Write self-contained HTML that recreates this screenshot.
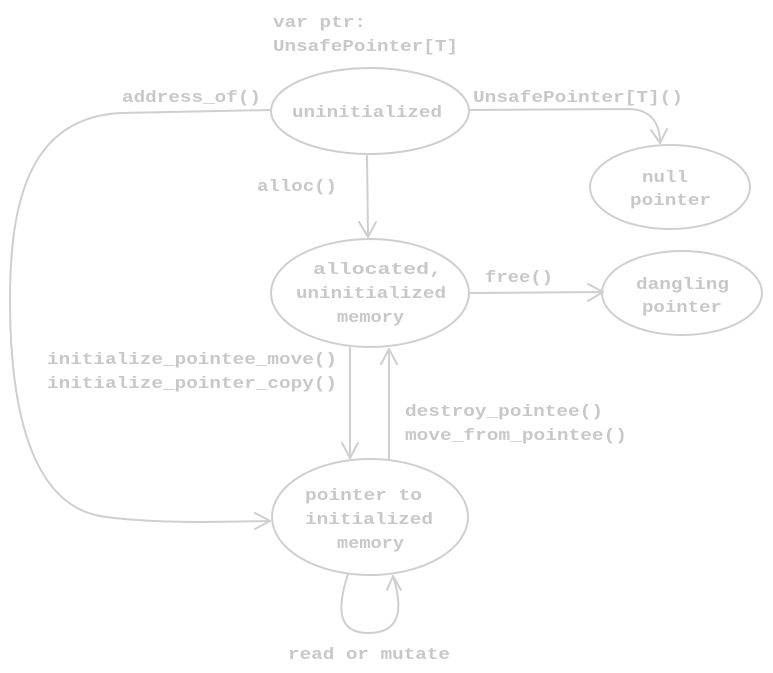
<!DOCTYPE html>
<html><head><meta charset="utf-8"><style>
html,body{margin:0;padding:0;background:#fff;}
svg{display:block}
text{font-family:"Liberation Mono","DejaVu Sans Mono",monospace;font-size:17px;fill:#c8c8c8;font-weight:bold}
</style></head><body>
<svg width="773" height="673" viewBox="0 0 773 673" xmlns="http://www.w3.org/2000/svg">
<g fill="none" stroke="#cfcfcf" stroke-width="2" stroke-linecap="round" stroke-linejoin="round">
<ellipse cx="370" cy="111" rx="99" ry="43"/>
<ellipse cx="670" cy="187" rx="80" ry="42"/>
<ellipse cx="370" cy="293" rx="99" ry="54"/>
<ellipse cx="682" cy="293" rx="80" ry="42"/>
<ellipse cx="370" cy="517" rx="98" ry="58"/>
<path d="M469,110 L630,109 C650,110 660,122 660,143"/>
<path d="M651,130 L660,143 L667,129"/>
<path d="M367,156 L368,237"/>
<path d="M359,222 L368,237 L376,222"/>
<path d="M469,293 L603,292"/>
<path d="M588,284 L603,292 L588,301"/>
<path d="M350,348 L350,458"/>
<path d="M342,443 L350,458 L358,443"/>
<path d="M389,460 L389,349"/>
<path d="M381,364 L389,349 L397,364"/>
<path d="M270,110 L120,113 C30,118 10,200 10,300 C10,430 40,505 100,516 C150,524 220,522 270,521"/>
<path d="M255,513 L270,521 L255,529"/>
<path d="M348,574 C338,605 335,634 370,633 C403,632 402,605 393,576"/>
<path d="M387,590 L393,576 L401,590"/>
</g>
<text x="273" y="27" textLength="93" lengthAdjust="spacingAndGlyphs">var ptr:</text>
<text x="273" y="51" textLength="185" lengthAdjust="spacingAndGlyphs">UnsafePointer[T]</text>
<text x="122" y="102" textLength="139" lengthAdjust="spacingAndGlyphs">address_of()</text>
<text x="473" y="102" textLength="210" lengthAdjust="spacingAndGlyphs">UnsafePointer[T]()</text>
<text x="292" y="117" textLength="150" lengthAdjust="spacingAndGlyphs">uninitialized</text>
<text x="257" y="191" textLength="80" lengthAdjust="spacingAndGlyphs">alloc()</text>
<text x="642" y="182" textLength="46" lengthAdjust="spacingAndGlyphs">null</text>
<text x="630" y="205" textLength="81" lengthAdjust="spacingAndGlyphs">pointer</text>
<text x="313" y="274" textLength="129" lengthAdjust="spacingAndGlyphs">allocated,</text>
<text x="296" y="298" textLength="150" lengthAdjust="spacingAndGlyphs">uninitialized</text>
<text x="337" y="322" textLength="67" lengthAdjust="spacingAndGlyphs">memory</text>
<text x="485" y="282" textLength="68" lengthAdjust="spacingAndGlyphs">free()</text>
<text x="636" y="289" textLength="93" lengthAdjust="spacingAndGlyphs">dangling</text>
<text x="642" y="312" textLength="80" lengthAdjust="spacingAndGlyphs">pointer</text>
<text x="47" y="364" textLength="290" lengthAdjust="spacingAndGlyphs">initialize_pointee_move()</text>
<text x="47" y="388" textLength="290" lengthAdjust="spacingAndGlyphs">initialize_pointer_copy()</text>
<text x="405" y="416" textLength="198" lengthAdjust="spacingAndGlyphs">destroy_pointee()</text>
<text x="405" y="440" textLength="222" lengthAdjust="spacingAndGlyphs">move_from_pointee()</text>
<text x="305" y="500" textLength="117" lengthAdjust="spacingAndGlyphs">pointer to</text>
<text x="305" y="524" textLength="128" lengthAdjust="spacingAndGlyphs">initialized</text>
<text x="337" y="548" textLength="67" lengthAdjust="spacingAndGlyphs">memory</text>
<text x="288" y="659" textLength="162" lengthAdjust="spacingAndGlyphs">read or mutate</text>
</svg>
</body></html>
